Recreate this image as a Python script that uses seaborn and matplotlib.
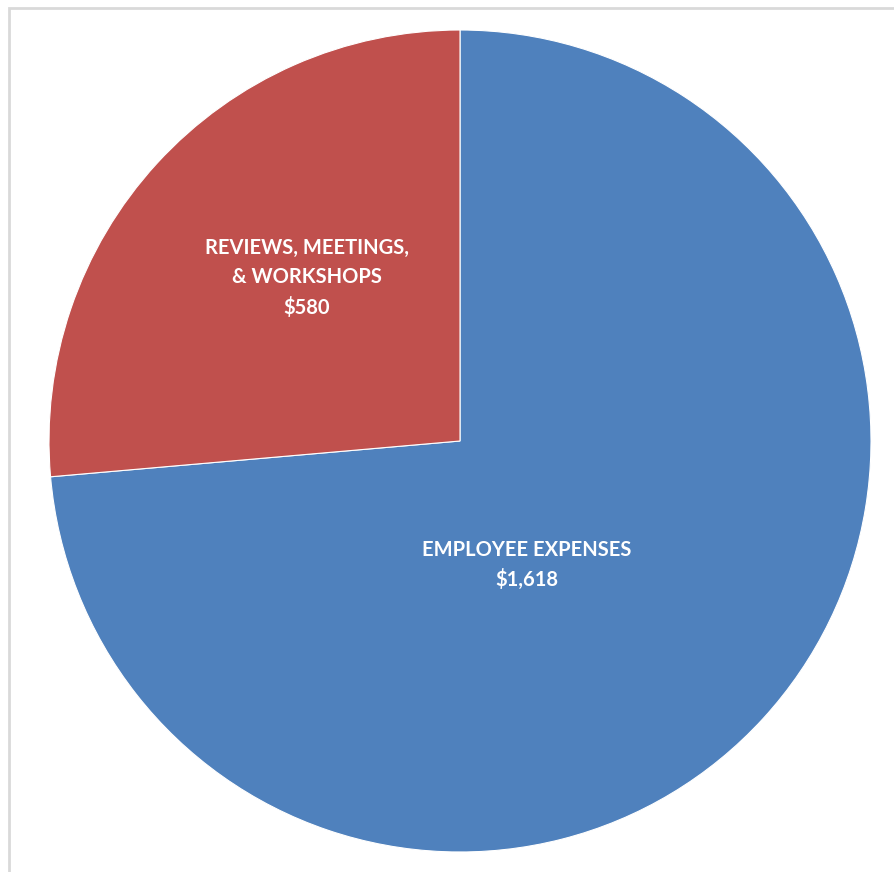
import matplotlib
matplotlib.use("Agg")
import matplotlib.pyplot as plt
import seaborn as sns
from matplotlib.patches import Rectangle

sns.set_theme(style="white")
plt.rcParams['font.family'] = ['Lato', 'DejaVu Sans']

categories = ["EMPLOYEE EXPENSES", "REVIEWS, MEETINGS,\n& WORKSHOPS"]
values = [1618, 580]
value_labels = ["$1,618", "$580"]
colors = ["#4F81BD", "#C0504D"]

W, H = 894, 872
fig = plt.figure(figsize=(W / 100, H / 100), dpi=100)
fig.patch.set_facecolor("white")
fig.patches.append(Rectangle((8.5 / W, -0.5), 2, 0.5 + (H - 7.5) / H, transform=fig.transFigure,
                             fill=False, edgecolor="#D9D9D9", linewidth=2))

ax = fig.add_axes([0, 0, 1, 1])
cx, cy, r = 460, H - 441, 411
ax.pie(values, colors=colors, startangle=90, counterclock=False,
       center=(cx, cy), radius=r, frame=False,
       wedgeprops=dict(linewidth=0.8, edgecolor="white"))
ax.set_xlim(0, W)
ax.set_ylim(0, H)
ax.set_aspect("equal")
ax.axis("off")

label_pos = [(67, -124), (-153, 163)]
for cat, vl, (dx, dy) in zip(categories, value_labels, label_pos):
    ax.text(cx + dx, cy + dy, f"{cat}\n{vl}", ha="center", va="center",
            color="white", fontsize=14.5, fontweight="bold", linespacing=1.55)

fig.savefig("out.png", dpi=100, facecolor="white")
